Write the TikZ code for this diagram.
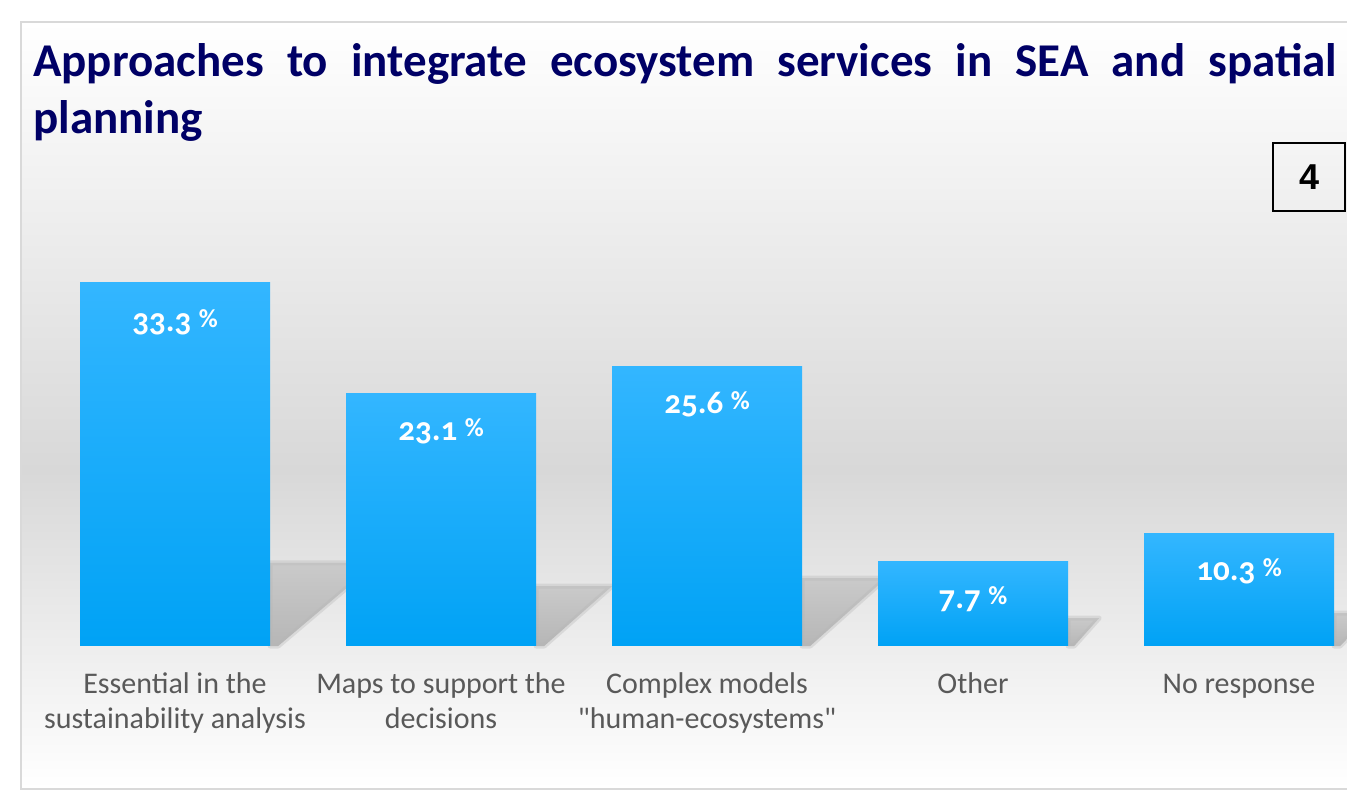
\documentclass[tikz,border=0pt]{standalone}
\usepackage{fontspec}
\setmainfont{Carlito}
\newfontfamily\oldnums[Numbers=OldStyle]{Carlito}
\newfontfamily\catfont[Ligatures=TeXOff]{Carlito}
\newfontfamily\boxfont{Liberation Sans}
\usetikzlibrary{positioning,backgrounds}
\definecolor{titleblue}{RGB}{0,0,102}
\definecolor{barlight}{RGB}{51,182,255}
\definecolor{bardark}{RGB}{0,162,245}
\definecolor{catgray}{RGB}{89,89,89}
\definecolor{wallgray}{RGB}{216,216,216}
\definecolor{framegray}{RGB}{217,217,217}
\definecolor{shadowtop}{RGB}{202,202,202}
\definecolor{shadowgray}{RGB}{182,182,182}
\newcommand{\pct}{\raisebox{4pt}{\fontsize{26}{26}\selectfont\%}}

\begin{document}
\begin{tikzpicture}[x=1pt,y=1pt,
  bar/.style={minimum width=190pt,inner sep=0pt,anchor=south,top color=barlight,bottom color=bardark},
  val/.style={text=white,font=\oldnums\bfseries\fontsize{33}{33}\selectfont},
  cat/.style={text=catgray,align=center,inner sep=0pt,font=\catfont\fontsize{30}{35}\selectfont,execute at begin node=\strut},
  shadowbox/.style={top color=shadowtop,bottom color=shadowgray,draw=shadowgray,draw opacity=0.35,line width=5pt,line join=round},
  title/.style={text=titleblue,inner sep=0pt,font=\bfseries\fontsize{47}{57}\selectfont}]
\useasboundingbox (0,0) rectangle (1347,796);

\node[title,anchor=base west] (t) at (33,719) {\hbox to 1304pt{Approaches\hfill to\hfill integrate\hfill ecosystem\hfill services\hfill in\hfill SEA\hfill and\hfill spatial}};
\node[title,anchor=base west] (t2) at ([yshift=-57pt]t.base west) {planning};
\node[draw,line width=1.5pt,minimum width=72pt,minimum height=68pt,font=\boxfont\bfseries\fontsize{36}{36}\selectfont] (n) at (1309,619) {4};

% bars
\node[bar,minimum height=363pt] (a) at (175,150) {};
\node[bar,minimum height=252pt] (b) at (441,150) {};
\node[bar,minimum height=279pt] (c) at (707,150) {};
\node[bar,minimum height=84pt] (d) at (973,150) {};
\node[bar,minimum height=112pt] (e) at (1239,150) {};

\node[val] (a1) at ([yshift=-40pt]a.north) {33.3 \pct};
\node[val] (b1) at ([yshift=-38pt]b.north) {23.1 \pct};
\node[val] (c1) at ([yshift=-38pt]c.north) {25.6 \pct};
\node[val] (d1) at ([yshift=-38pt]d.north) {7.7 \pct};
\node[val] (e1) at ([yshift=-38pt]e.north) {10.3 \pct};

\node[cat,below=26pt of a.south] (a2) {Essential in the\\sustainability analysis};
\node[cat,below=26pt of b.south] (b2) {Maps to support the\\decisions};
\node[cat,below=26pt of c.south] (c2) {Complex models\\"human-ecosystems"};
\node[cat,below=23pt of d.south] (d2) {Other};
\node[cat,below=23pt of e.south] (e2) {No response};

\begin{scope}[on background layer]
\shade[top color=white,bottom color=wallgray] (21,326) rectangle (1362,774);
\shade[top color=wallgray,bottom color=white] (21,7) rectangle (1362,326);
\draw[framegray,line width=2pt] (21,7) rectangle (1362,774);
% shadows
\shadedraw[shadowbox] (a.south east) -- ++(0,83) -- ++(106,0) -- ([xshift=8pt]a.south east) -- cycle;
\shadedraw[shadowbox] (b.south east) -- ++(0,60) -- ++(76,0) -- ([xshift=8pt]b.south east) -- cycle;
\shadedraw[shadowbox] (c.south east) -- ++(0,68) -- ++(84,0) -- ([xshift=8pt]c.south east) -- cycle;
\shadedraw[shadowbox] (d.south east) -- ++(0,28) -- ++(31,0) -- ([xshift=6pt]d.south east) -- cycle;
\shadedraw[shadowbox] (e.south east) -- ++(0,33) -- ++(38,0) -- ([xshift=6pt]e.south east) -- cycle;
\end{scope}
\end{tikzpicture}
\end{document}
